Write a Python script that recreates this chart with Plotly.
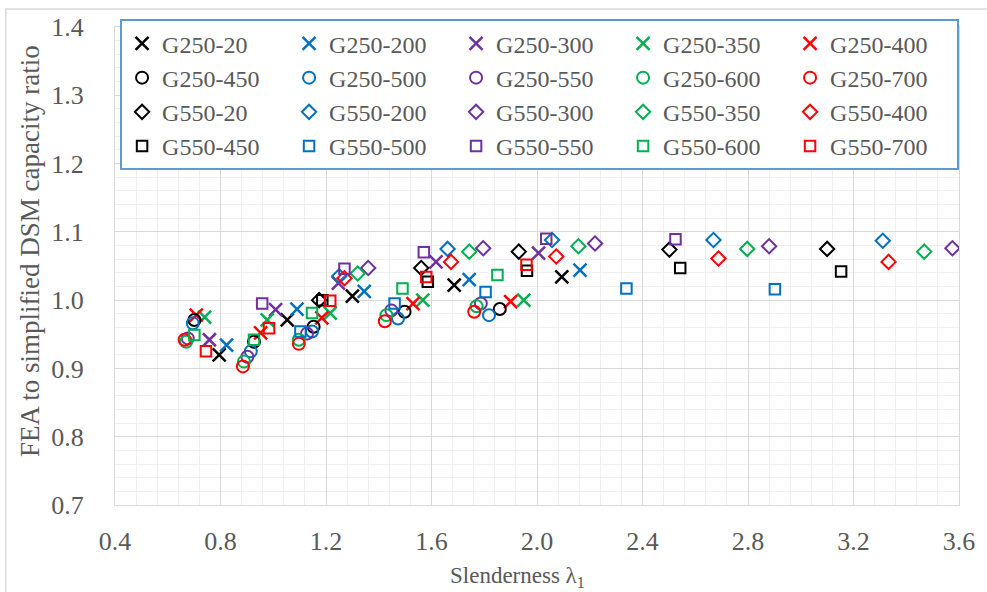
import plotly.graph_objects as go

# Slenderness (lambda_1) and FEA / simplified DSM capacity ratio per specimen group
lam_g250_20 = [0.795, 1.053, 1.300, 1.686, 2.094]
rat_g250_20 = [0.920, 0.971, 1.006, 1.022, 1.034]
lam_g250_200 = [0.823, 1.090, 1.345, 1.743, 2.163]
rat_g250_200 = [0.934, 0.987, 1.013, 1.030, 1.044]
lam_g250_300 = [0.758, 1.009, 1.247, 1.617, 2.006]
rat_g250_300 = [0.942, 0.986, 1.025, 1.056, 1.069]
lam_g250_350 = [0.740, 0.977, 1.216, 1.567, 1.950]
rat_g250_350 = [0.975, 0.971, 0.981, 1.000, 1.000]
lam_g250_400 = [0.708, 0.952, 1.184, 1.530, 1.900]
rat_g250_400 = [0.978, 0.952, 0.974, 0.995, 0.998]

lam_g250_450 = [0.701, 0.927, 1.153, 1.498, 1.859]
rat_g250_450 = [0.971, 0.939, 0.961, 0.983, 0.987]
lam_g250_500 = [0.695, 0.915, 1.147, 1.473, 1.818]
rat_g250_500 = [0.966, 0.925, 0.954, 0.973, 0.978]
lam_g250_550 = [0.676, 0.902, 1.128, 1.448, 1.787]
rat_g250_550 = [0.944, 0.917, 0.951, 0.985, 0.995]
lam_g250_600 = [0.670, 0.889, 1.097, 1.429, 1.771]
rat_g250_600 = [0.939, 0.910, 0.942, 0.978, 0.991]
lam_g250_700 = [0.664, 0.885, 1.097, 1.423, 1.762]
rat_g250_700 = [0.942, 0.903, 0.936, 0.969, 0.983]

lam_g550_20 = [1.174, 1.561, 1.931, 2.502, 3.100]
rat_g550_20 = [1.000, 1.047, 1.071, 1.074, 1.075]
lam_g550_200 = [1.250, 1.661, 2.057, 2.669, 3.311]
rat_g550_200 = [1.035, 1.075, 1.088, 1.088, 1.087]
lam_g550_300 = [1.360, 1.796, 2.220, 2.880, 3.575]
rat_g550_300 = [1.047, 1.076, 1.083, 1.079, 1.076]
lam_g550_350 = [1.320, 1.743, 2.157, 2.797, 3.468]
rat_g550_350 = [1.039, 1.071, 1.079, 1.075, 1.071]
lam_g550_400 = [1.270, 1.674, 2.073, 2.688, 3.333]
rat_g550_400 = [1.032, 1.056, 1.064, 1.061, 1.056]

lam_g550_450 = [1.186, 1.586, 1.962, 2.543, 3.153]
rat_g550_450 = [1.000, 1.027, 1.043, 1.047, 1.042]
lam_g550_500 = [1.103, 1.460, 1.805, 2.339, 2.902]
rat_g550_500 = [0.954, 0.995, 1.012, 1.017, 1.016]
lam_g550_550 = [0.958, 1.270, 1.571, 2.035, 2.525]
rat_g550_550 = [0.995, 1.046, 1.070, 1.090, 1.089]
lam_g550_600 = [0.701, 0.927, 1.147, 1.490, 1.850]
rat_g550_600 = [0.949, 0.942, 0.981, 1.017, 1.037]
lam_g550_700 = [0.745, 0.984, 1.216, 1.580, 1.960]
rat_g550_700 = [0.925, 0.959, 0.999, 1.034, 1.052]

x_ticks = [0.4, 0.8, 1.2, 1.6, 2.0, 2.4, 2.8, 3.2, 3.6]
x_tick_text = ["0.4", "0.8", "1.2", "1.6", "2.0", "2.4", "2.8", "3.2", "3.6"]
y_ticks = [0.7, 0.8, 0.9, 1.0, 1.1, 1.2, 1.3, 1.4]
y_tick_text = ["0.7", "0.8", "0.9", "1.0", "1.1", "1.2", "1.3", "1.4"]

BLACK, BLUE, PURPLE, GREEN, RED = "#000000", "#0070C0", "#7030A0", "#00B050", "#FF0000"
FONT = "Liberation Serif"
TEXT_GREY = "#595959"

series = [
    ("G250-20", lam_g250_20, rat_g250_20, "x-thin-open", BLACK),
    ("G250-200", lam_g250_200, rat_g250_200, "x-thin-open", BLUE),
    ("G250-300", lam_g250_300, rat_g250_300, "x-thin-open", PURPLE),
    ("G250-350", lam_g250_350, rat_g250_350, "x-thin-open", GREEN),
    ("G250-400", lam_g250_400, rat_g250_400, "x-thin-open", RED),
    ("G250-450", lam_g250_450, rat_g250_450, "circle-open", BLACK),
    ("G250-500", lam_g250_500, rat_g250_500, "circle-open", BLUE),
    ("G250-550", lam_g250_550, rat_g250_550, "circle-open", PURPLE),
    ("G250-600", lam_g250_600, rat_g250_600, "circle-open", GREEN),
    ("G250-700", lam_g250_700, rat_g250_700, "circle-open", RED),
    ("G550-20", lam_g550_20, rat_g550_20, "diamond-open", BLACK),
    ("G550-200", lam_g550_200, rat_g550_200, "diamond-open", BLUE),
    ("G550-300", lam_g550_300, rat_g550_300, "diamond-open", PURPLE),
    ("G550-350", lam_g550_350, rat_g550_350, "diamond-open", GREEN),
    ("G550-400", lam_g550_400, rat_g550_400, "diamond-open", RED),
    ("G550-450", lam_g550_450, rat_g550_450, "square-open", BLACK),
    ("G550-500", lam_g550_500, rat_g550_500, "square-open", BLUE),
    ("G550-550", lam_g550_550, rat_g550_550, "square-open", PURPLE),
    ("G550-600", lam_g550_600, rat_g550_600, "square-open", GREEN),
    ("G550-700", lam_g550_700, rat_g550_700, "square-open", RED),
]

marker_size = {"x-thin-open": 13, "circle-open": 12, "diamond-open": 11, "square-open": 10.5}

fig = go.Figure()
for name, lam, rat, sym, col in series:
    fig.add_trace(go.Scatter(
        x=lam, y=rat, mode="markers", name=name,
        marker=dict(symbol=sym, size=marker_size[sym], color=col,
                    line=dict(color=col, width=2.5 if sym == "x-thin-open" else 2)),
    ))

axis_common = dict(
    showgrid=True, gridcolor="#d9d9d9", gridwidth=1,
    showline=True, linecolor="#d9d9d9", linewidth=1, mirror=True,
    zeroline=False, ticks="",
    tickfont=dict(family=FONT, size=26, color=TEXT_GREY),
)

fig.update_xaxes(
    range=[0.4, 3.6], tickvals=x_ticks, ticktext=x_tick_text,
    minor=dict(dtick=0.08, tick0=0.4, showgrid=True, gridcolor="#f0f0f0", gridwidth=1),
    ticklabelstandoff=13, **axis_common,
)
fig.update_yaxes(
    range=[0.7, 1.4], tickvals=y_ticks, ticktext=y_tick_text,
    minor=dict(dtick=0.02, tick0=0.7, showgrid=True, gridcolor="#f0f0f0", gridwidth=1),
    ticklabelstandoff=25, **axis_common,
)

fig.update_layout(
    width=987, height=592,
    margin=dict(l=115, r=22, t=27, b=87),
    paper_bgcolor="white", plot_bgcolor="white",
    font=dict(family=FONT, color=TEXT_GREY),
    showlegend=True,
    legend=dict(
        orientation="h", x=0.006, y=1.016, xanchor="left", yanchor="top",
        entrywidth=122, entrywidthmode="pixels",
        bgcolor="white", bordercolor="#5B9BD5", borderwidth=2,
        font=dict(family=FONT, size=24, color=TEXT_GREY),
        traceorder="normal", itemsizing="trace",
    ),
    annotations=[
        dict(text="FEA to simplified DSM capacity ratio", textangle=-90,
             xref="paper", yref="paper", x=-0.101, y=0.531,
             xanchor="center", yanchor="middle",
             showarrow=False, font=dict(family=FONT, size=27, color=TEXT_GREY)),
        dict(text="Slenderness λ<sub>1</sub>",
             xref="paper", yref="paper", x=0.4765, y=-0.1506,
             xanchor="center", yanchor="middle",
             showarrow=False, font=dict(family=FONT, size=23, color=TEXT_GREY)),
    ],
    shapes=[
        dict(type="rect", xref="paper", yref="paper",
             x0=-0.1294, x1=1.2, y0=-0.5, y1=1.0377,
             line=dict(color="#d9d9d9", width=1.5), fillcolor="rgba(0,0,0,0)", layer="below"),
    ],
)

fig.write_html("out.html")
